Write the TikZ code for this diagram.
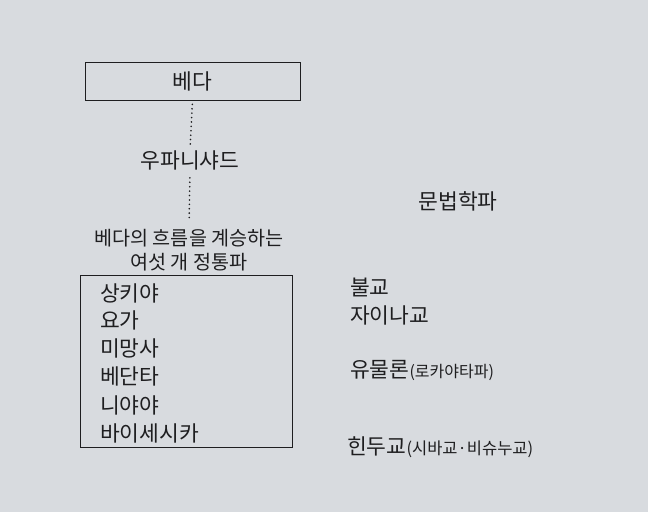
\documentclass[tikz,border=0pt]{standalone}
\usepackage{fontspec}
\setmainfont{Noto Sans CJK KR}
\usepackage{tikz}
\usetikzlibrary{positioning}
\definecolor{colorbg}  {RGB}{216,219,223}
\definecolor{colortext}{RGB}{30,30,32}

\begin{document}
\begin{tikzpicture}[
    x=1pt, y=-1pt,
    font={\fontsize{21.5}{24}\selectfont},
    school/.style={text=colortext,inner sep=0pt,anchor=west},
    label/.style={text=colortext,inner sep=0pt},
    frame/.style={draw=colortext,line width=0.8pt},
    lineage/.style={colortext,line width=1.8pt,line cap=round,dash pattern=on 0pt off 4.4pt},
]
    \useasboundingbox[fill=colorbg] (0,0) rectangle (648,512);

    % Orthodox line
    \node[label,frame,minimum width=215pt,minimum height=38pt] (veda) at (192.5,81) {베다};
    \node[label] (upanishad) at (190,160) {우파니샤드};
    \node[label,align=center,font={\fontsize{19.6}{24.5}\selectfont}] (orthodox) at (189,250) {베다의 흐름을 계승하는\\여섯 개 정통파};

    % Six schools
    \node[frame,minimum width=212pt,minimum height=172pt] (six) at (186,361) {};
    \node[school] (samkhya)   at (100,293) {상키야};
    \node[school] (yoga)      at (100,320) {요가};
    \node[school] (mimamsa)   at (100,348) {미망사};
    \node[school] (vedanta)   at (100,376) {베단타};
    \node[school] (nyaya)     at (100,405) {니야야};
    \node[school] (vaisesika) at (100,433) {바이세시카};

    % Other schools
    \node[label] (grammar) at (458,201) {문법학파};
    \node[school] (buddhism) at (350,287) {불교};
    \node[school] (jainism)  at (350,315) {자이나교};
    \node[school] (lokayata) at (350,370) {유물론{\fontsize{16}{18}\selectfont(로카야타파)}};
    \node[school] (hinduism) at (347,447) {힌두교{\fontsize{16.5}{18}\selectfont(시바교·비슈누교)}};

    % Lineage
    \draw[lineage,shorten <=4pt,shorten >=6pt] (veda.south) -- (upanishad.north);
    \draw[lineage,shorten <=8pt,shorten >=9pt] (upanishad.south) -- (orthodox.north);
\end{tikzpicture}
\end{document}
